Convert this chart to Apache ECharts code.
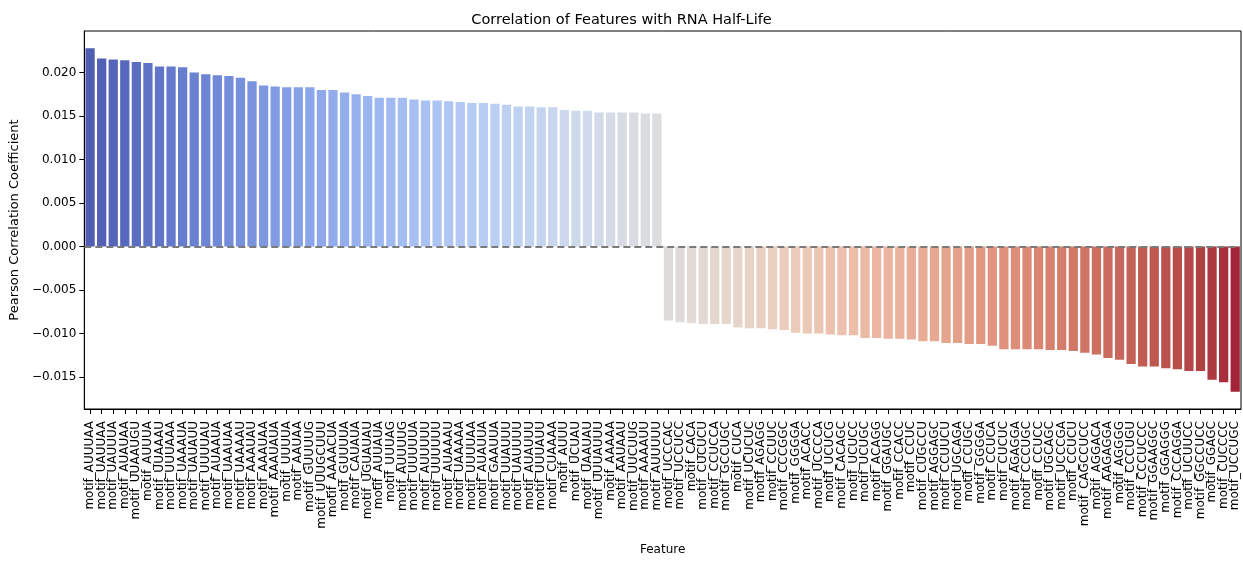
<!DOCTYPE html>
<html>
<head>
<meta charset="utf-8">
<title>Correlation of Features with RNA Half-Life</title>
<script src="https://cdn.jsdelivr.net/npm/echarts@6/dist/echarts.min.js"></script>
<style>
  html, body { margin: 0; padding: 0; background: #ffffff; }
  #chart { width: 1243px; height: 561px; }
</style>
</head>
<body>
<div id="chart"></div>
<script>
// Motif features, sorted by their correlation with RNA half-life
const features = [
  'motif_AUUUAA', 'motif_UAUUAA', 'motif_UAUUUA', 'motif_AUAUAA', 'motif_UUAAUGU',
  'motif_AUUUA', 'motif_UUAAAU', 'motif_UUUAAA', 'motif_UAAAUA', 'motif_UAUAUU',
  'motif_UUUUAU', 'motif_AUAAUA', 'motif_UAAUAA', 'motif_UAAAAU', 'motif_AAAUAU',
  'motif_AAAUAA', 'motif_AAAUAUA', 'motif_UUUUA', 'motif_AAUAA', 'motif_GUUUUG',
  'motif_UUUGCUUU', 'motif_AAAACUA', 'motif_GUUUUA', 'motif_CAUAUA', 'motif_UGUAUAU',
  'motif_AUUAUA', 'motif_UUUAG', 'motif_AUUUUG', 'motif_UUUUUA', 'motif_AUUUUU',
  'motif_UUUUUU', 'motif_AUAAAU', 'motif_UAAAAA', 'motif_UUUUAA', 'motif_AUAUUA',
  'motif_GAAUUA', 'motif_UUAUUU', 'motif_UAUUUU', 'motif_AUAUUU', 'motif_UUUAUU',
  'motif_CUAAAA', 'motif_AUUU', 'motif_UCUAU', 'motif_UAAUAU', 'motif_UUUAUUU',
  'motif_AAAAA', 'motif_AAUAAU', 'motif_UUCUUG', 'motif_AAAAUU', 'motif_AUUUUU',
  'motif_UCCCAC', 'motif_UCCUCC', 'motif_CACA', 'motif_CUCUCU', 'motif_CCUCCA',
  'motif_GCCUGC', 'motif_CUCA', 'motif_UCUCUC', 'motif_AGAGG', 'motif_CCUUC',
  'motif_CCCGGC', 'motif_GGGGA', 'motif_ACACC', 'motif_UCCCCA', 'motif_UCUCG',
  'motif_CACAGC', 'motif_UCUCC', 'motif_UCUGC', 'motif_ACAGG', 'motif_GGAUGC',
  'motif_CCACC', 'motif_CCUC', 'motif_CUGCCU', 'motif_AGGAGC', 'motif_CCUUCU',
  'motif_UGCAGA', 'motif_CCUGC', 'motif_GGGGA', 'motif_CCUCA', 'motif_CUCUC',
  'motif_AGAGGA', 'motif_CCCUGC', 'motif_CCUCC', 'motif_UGCAGC', 'motif_UCCCGA',
  'motif_CCUCU', 'motif_CAGCCUCC', 'motif_AGGACA', 'motif_AAGAGGA', 'motif_AGGGG',
  'motif_CCCUGU', 'motif_CCCUCCC', 'motif_GGAAGGC', 'motif_GGAGGG', 'motif_CCCAGGA',
  'motif_UCUUCC', 'motif_GGCCUCC', 'motif_GGAGC', 'motif_CUCCCC', 'motif_UCCUGC'
];

// Pearson correlation coefficient of each feature with half-life
const correlations = [
  0.0228, 0.0216, 0.0215, 0.0214, 0.0212, 0.0211, 0.0207, 0.0207, 0.0206, 0.0200,
  0.0198, 0.0197, 0.0196, 0.0194, 0.0190, 0.0185, 0.0184, 0.0183, 0.0183, 0.0183,
  0.0180, 0.0180, 0.0177, 0.0175, 0.0173, 0.0171, 0.0171, 0.0171, 0.0169, 0.0168,
  0.0168, 0.0167, 0.0166, 0.0165, 0.0165, 0.0164, 0.0163, 0.0161, 0.0161, 0.0160,
  0.0160, 0.0157, 0.0156, 0.0156, 0.0154, 0.0154, 0.0154, 0.0154, 0.0153, 0.0153,
  -0.0085, -0.0087, -0.0088, -0.0089, -0.0089, -0.0089, -0.0093, -0.0094, -0.0094, -0.0095,
  -0.0096, -0.0099, -0.0100, -0.0100, -0.0101, -0.0102, -0.0102, -0.0105, -0.0105, -0.0106,
  -0.0106, -0.0107, -0.0109, -0.0109, -0.0111, -0.0111, -0.0112, -0.0112, -0.0114, -0.0118,
  -0.0118, -0.0118, -0.0118, -0.0119, -0.0119, -0.0120, -0.0122, -0.0124, -0.0128, -0.0130,
  -0.0135, -0.0138, -0.0138, -0.0140, -0.0141, -0.0143, -0.0143, -0.0153, -0.0156, -0.0167
];

// Y tick labels
const yTicks = [-0.015, -0.010, -0.005, 0.000, 0.005, 0.010, 0.015, 0.020];

// Diverging blue-to-red colour ramp (coolwarm control points, RGB 0-255)
const coolwarmStops = [
  [59, 76, 192], [68, 90, 204], [77, 104, 215], [87, 117, 225], [98, 130, 234],
  [108, 142, 241], [119, 154, 247], [130, 165, 251], [141, 176, 254], [152, 185, 255],
  [163, 194, 255], [174, 201, 253], [184, 208, 249], [194, 213, 244], [204, 217, 238],
  [213, 219, 230], [221, 221, 221], [229, 216, 209], [236, 211, 197], [241, 204, 185],
  [245, 196, 173], [247, 187, 160], [247, 177, 148], [247, 166, 135], [244, 154, 123],
  [241, 141, 111], [236, 127, 99], [229, 112, 88], [222, 96, 77], [213, 80, 66],
  [203, 62, 56], [192, 40, 47], [180, 4, 38]
];

function coolwarm(t) {
  const n = coolwarmStops.length - 1;
  const p = Math.min(Math.max(t, 0), 1) * n;
  const i = Math.min(Math.floor(p), n - 1);
  const f = p - i;
  const a = coolwarmStops[i], b = coolwarmStops[i + 1];
  return [0, 1, 2].map(k => a[k] + (b[k] - a[k]) * f);
}

// Reduce saturation in HLS space (bars are drawn slightly muted)
function desaturate(rgb, prop) {
  const [r, g, b] = rgb.map(v => v / 255);
  const mx = Math.max(r, g, b), mn = Math.min(r, g, b);
  const l = (mx + mn) / 2;
  if (mx === mn) return rgb;
  const d = mx - mn;
  const s = l <= 0.5 ? d / (mx + mn) : d / (2 - mx - mn);
  let h;
  if (mx === r) h = ((g - b) / d) % 6;
  else if (mx === g) h = (b - r) / d + 2;
  else h = (r - g) / d + 4;
  h /= 6; if (h < 0) h += 1;
  const s2 = s * prop;
  const m2 = l <= 0.5 ? l * (1 + s2) : l + s2 - l * s2;
  const m1 = 2 * l - m2;
  const hue = (hh) => {
    hh = ((hh % 1) + 1) % 1;
    if (hh < 1 / 6) return m1 + (m2 - m1) * hh * 6;
    if (hh < 0.5) return m2;
    if (hh < 2 / 3) return m1 + (m2 - m1) * (2 / 3 - hh) * 6;
    return m1;
  };
  return [hue(h + 1 / 3), hue(h), hue(h - 1 / 3)].map(v => Math.round(v * 255));
}

const barColors = features.map((_, i) => {
  const c = desaturate(coolwarm((i + 1) / (features.length + 1)), 0.75);
  return 'rgb(' + c.join(',') + ')';
});

// Axis limits padded by 5% of the data span
const dMin = Math.min(...correlations), dMax = Math.max(...correlations);
const pad = (dMax - dMin) * 0.05;

const fontFamily = 'DejaVu Sans';
const chart = echarts.init(document.getElementById('chart'), null, { renderer: 'canvas' });

chart.setOption({
  animation: false,
  backgroundColor: '#ffffff',
  title: {
    text: 'Correlation of Features with RNA Half-Life',
    left: 'center',
    top: 8,
    textStyle: { fontFamily, fontSize: 14.5, fontWeight: 'normal', color: '#000' }
  },
  grid: {
    left: 83, right: 2, top: 31, bottom: 151,
    show: true, borderColor: '#000', borderWidth: 1, backgroundColor: 'transparent'
  },
  xAxis: {
    type: 'category',
    data: features,
    boundaryGap: true,
    name: 'Feature',
    nameLocation: 'middle',
    nameGap: 135,
    nameTextStyle: { fontFamily, fontSize: 12, color: '#000' },
    axisLine: { show: true, onZero: false, lineStyle: { color: '#000', width: 1 } },
    axisTick: { show: true, alignWithLabel: true, interval: 0, length: 5, lineStyle: { color: '#000' } },
    axisLabel: {
      interval: 0, rotate: 90, margin: 12,
      fontFamily, fontSize: 12, color: '#000'
    },
    splitLine: { show: false }
  },
  yAxis: {
    type: 'value',
    min: dMin - pad,
    max: dMax + pad,
    name: 'Pearson Correlation Coefficient',
    nameLocation: 'middle',
    nameGap: 59,
    nameTextStyle: { fontFamily, fontSize: 13, color: '#000' },
    axisLine: { show: true, onZero: false, lineStyle: { color: '#000', width: 1 } },
    axisTick: { show: true, length: 5, customValues: yTicks, lineStyle: { color: '#000' } },
    axisLabel: {
      customValues: yTicks,
      margin: 8,
      fontFamily, fontSize: 12, color: '#000',
      formatter: v => (v < 0 ? '\u2212' : '') + Math.abs(v).toFixed(3)
    },
    splitLine: { show: false }
  },
  series: [
    {
      type: 'bar',
      z: 2,
      data: correlations,
      barCategoryGap: '20%',
      itemStyle: { color: p => barColors[p.dataIndex] }
    },
    {
      // Dashed reference line at zero, drawn above the bars
      type: 'line',
      z: 5,
      data: [],
      silent: true,
      markLine: {
        silent: true,
        symbol: ['none', 'none'],
        label: { show: false },
        lineStyle: { color: '#7a7a7a', width: 2, type: [7, 4] },
        data: [{ yAxis: 0 }]
      }
    }
  ]
});
</script>
</body>
</html>
